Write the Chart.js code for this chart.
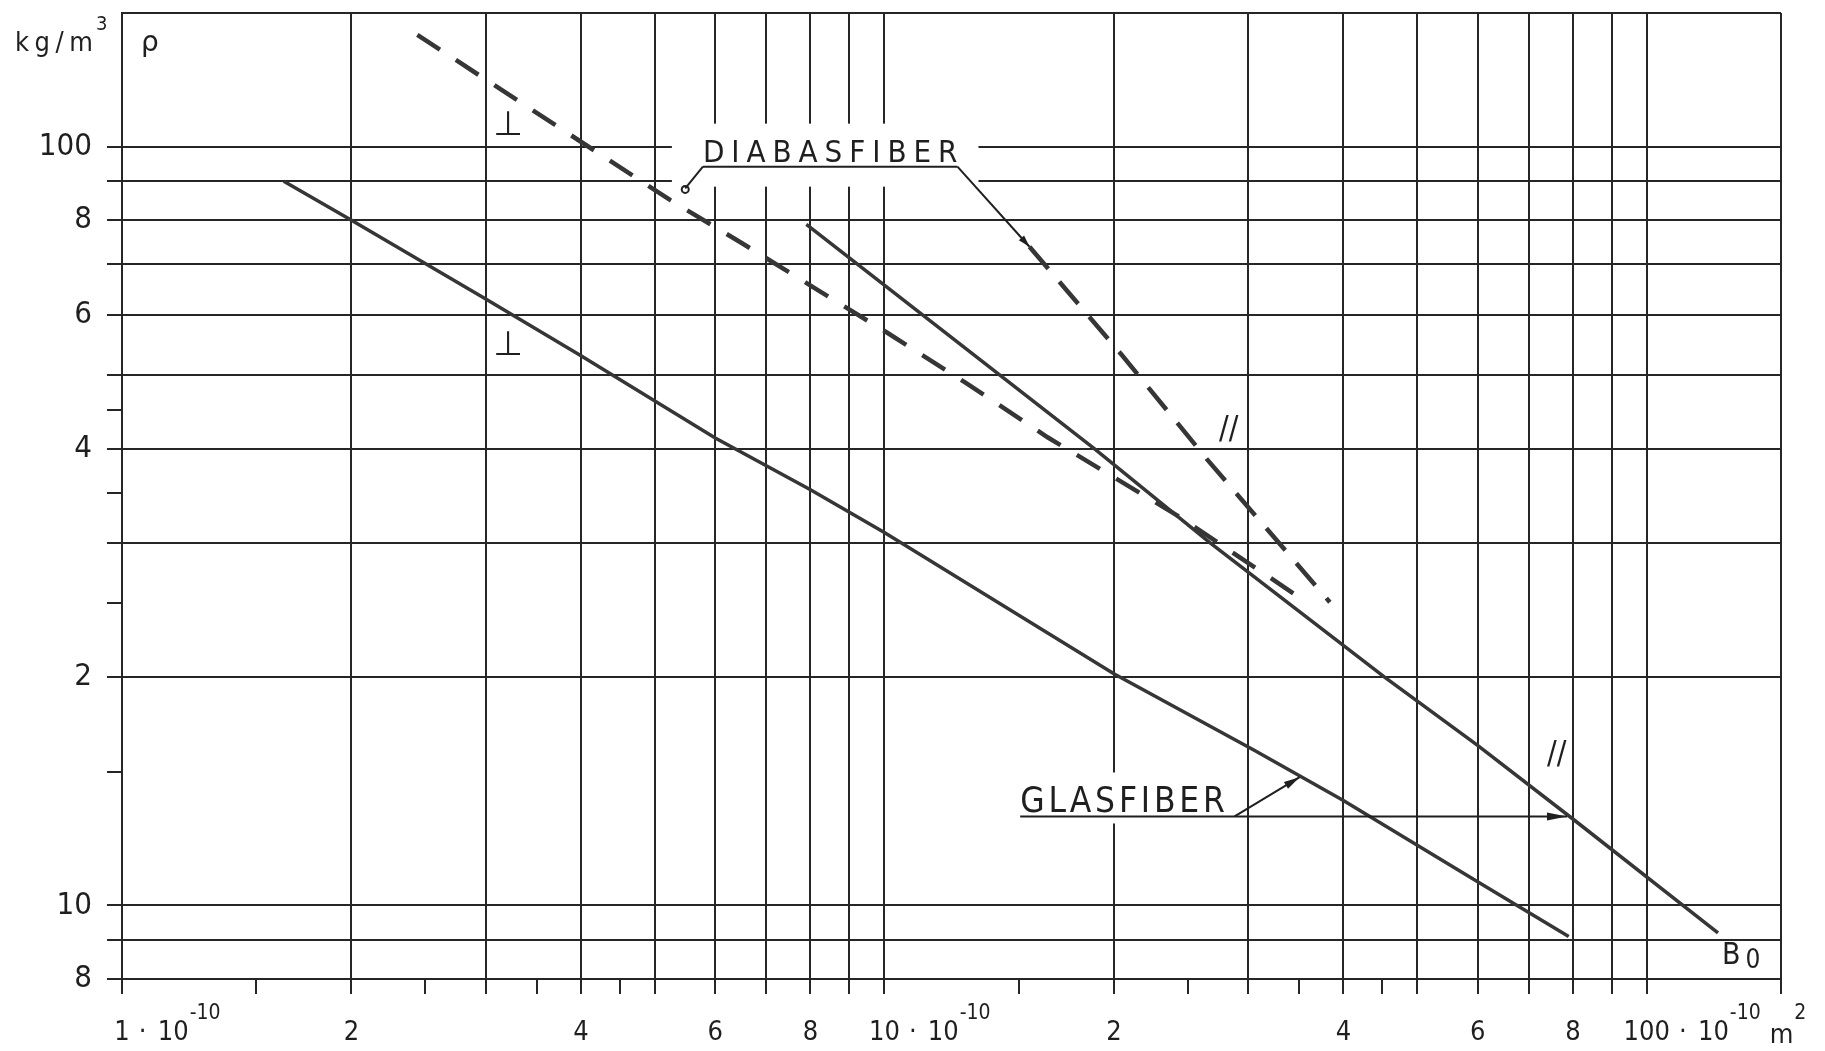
<!DOCTYPE html>
<html>
<head>
<meta charset="utf-8">
<script src="https://cdn.jsdelivr.net/npm/chart.js@4/dist/chart.umd.min.js"></script>
<style>
html,body{margin:0;padding:0;background:#fff;}
#wrap{width:1825px;height:1051px;position:relative;background:#fff;}
</style>
</head>
<body>
<div id="wrap"><canvas id="c" width="1825" height="1051"></canvas></div>
<script>
// ---------------- data (x in 10^-10 m^2, y = rho in kg/m^3) ----------------
const glasPerpX   = [1.63, 2, 3, 4, 6, 8, 10, 20, 30.6, 40, 60, 79];
const glasPerpY   = [90, 80, 63, 53, 41.3, 35.3, 31, 20.2, 16, 13.75, 10.75, 9.1];
const glasParX    = [7.9, 18.85, 26.8, 45.3, 60, 80, 124];
const glasParY    = [79, 40, 30, 20, 16.25, 13, 9.2];
const diabasPerpX = [2.44, 3.7, 5.24, 6.49, 8.08, 10.1, 12.76, 16.37, 24.4, 36];
const diabasPerpY = [140.4, 106.8, 85, 74.7, 65.2, 56.8, 48.9, 41.4, 32.5, 25];
const diabasParX  = [15.5, 20.5, 26.45, 38.4];
const diabasParY  = [73.8, 53.1, 38.8, 25.1];

// ---------------- axes: grid values, minor ticks, tick labels ----------------
const xGridValues = [1,2,3,4,5,6,7,8,9,10,20,30,40,50,60,70,80,90,100,150];
const xMinorTicks = [1.5,2.5,3.5,4.5,15,25,35,45];
const xTickLabels = {1:'1',2:'2',4:'4',6:'6',8:'8',10:'10',20:'2',40:'4',60:'6',80:'8',100:'100'};
const xSuffixTicks = [1, 10, 100];
const yGridValues = [8,9,10,20,30,40,50,60,70,80,90,100,150];
const yMinorTicks = [15,25,35,45];
const yTickLabels = {8:'8',10:'10',20:'2',40:'4',60:'6',80:'8',100:'100'};

// ---------------- annotation anchors (data coordinates) ----------------
const annot = {
  diabas: {text:'DIABASFIBER', x0:5.78, x1:12.47, yLine:94.1, tipL:[5.48,88.1], tipR:[15.5,73.8]},
  glas:   {text:'GLASFIBER', x0:15.07, x1:27.97, yLine:13.1, diag:28.8, tipLow:[35.05,14.76], tipUp:[78.6,13.1]},
  perp:   [[3.21,106.5],[3.21,54.6]],
  par:    [[28.3,42.4],[76.2,15.8]],
  b0:     [125.5, 8.56]
};

const GRID = '#262626', CURVE = '#363636', INK = '#1f1f1f';
const FONT = "'DejaVu Sans Condensed', 'DejaVu Sans', sans-serif";
const TICK_LEN = 15, X_PAD = 23, Y_PAD = 15, X_FS = 27, Y_FS = 31;
const minorX = new Set(xMinorTicks), minorY = new Set(yMinorTicks);
const pts = (xs, ys) => xs.map((v, i) => ({x: v, y: ys[i]}));

function drawSpaced(ctx, text, xl, xr, base, size) {
  ctx.font = size + 'px ' + FONT;
  ctx.textAlign = 'left'; ctx.textBaseline = 'alphabetic';
  const ch = [...text], ws = ch.map(c => ctx.measureText(c).width);
  const tot = ws.reduce((a, b) => a + b, 0);
  const gap = (xr - xl - tot) / (ch.length - 1);
  let x = xl;
  ch.forEach((c, i) => { ctx.fillText(c, x, base); x += ws[i] + gap; });
}
function arrowHead(ctx, fx, fy, tx, ty, len, half) {
  const a = Math.atan2(ty - fy, tx - fx);
  ctx.beginPath();
  ctx.moveTo(tx, ty);
  ctx.lineTo(tx - len*Math.cos(a) + half*Math.sin(a), ty - len*Math.sin(a) - half*Math.cos(a));
  ctx.lineTo(tx - len*Math.cos(a) - half*Math.sin(a), ty - len*Math.sin(a) + half*Math.cos(a));
  ctx.closePath(); ctx.fill();
}
function line(ctx, x1, y1, x2, y2) { ctx.beginPath(); ctx.moveTo(x1, y1); ctx.lineTo(x2, y2); ctx.stroke(); }

const overlay = {
  id: 'overlay',
  afterDraw(chart) {
    const ctx = chart.ctx, xs = chart.scales.x, ys = chart.scales.y;
    const X = v => xs.getPixelForValue(v), Y = v => ys.getPixelForValue(v);
    ctx.save();
    ctx.fillStyle = INK; ctx.strokeStyle = INK; ctx.lineWidth = 2;

    // ---- DIABASFIBER label ----
    const d = annot.diabas, dyl = Y(d.yLine), dx0 = X(d.x0), dx1 = X(d.x1);
    ctx.fillStyle = '#fff';
    ctx.fillRect(dx0 - 31, dyl - 43, dx1 - dx0 + 52, 63);
    ctx.fillStyle = INK;
    drawSpaced(ctx, d.text, dx0, dx1, dyl - 5, 31);
    line(ctx, dx0, dyl, dx1, dyl);
    const tl = [X(d.tipL[0]), Y(d.tipL[1])], tr = [X(d.tipR[0]), Y(d.tipR[1])];
    line(ctx, dx0, dyl, tl[0], tl[1]);
    ctx.beginPath(); ctx.arc(tl[0], tl[1] + 1, 3.5, 0, Math.PI*2); ctx.stroke();
    line(ctx, dx1, dyl, tr[0], tr[1]);
    arrowHead(ctx, dx1, dyl, tr[0], tr[1], 12, 3.5);

    // ---- GLASFIBER label ----
    const g = annot.glas, gyl = Y(g.yLine), gx0 = X(g.x0), gx1 = X(g.x1);
    ctx.fillStyle = '#fff';
    ctx.fillRect(gx0 - 10, gyl - 44, gx1 - gx0 + 22, 51);
    ctx.fillStyle = INK;
    drawSpaced(ctx, g.text, gx0, gx1, gyl - 4, 35);
    const tu = [X(g.tipUp[0]), Y(g.tipUp[1])], tlo = [X(g.tipLow[0]), Y(g.tipLow[1])];
    line(ctx, gx0, gyl, tu[0], gyl);
    arrowHead(ctx, tu[0] - 30, gyl, tu[0], gyl, 20, 4);
    const gd = X(g.diag);
    line(ctx, gd, gyl, tlo[0], tlo[1]);
    arrowHead(ctx, gd, gyl, tlo[0], tlo[1], 16, 4);

    // ---- perpendicular / parallel marks ----
    ctx.textAlign = 'center'; ctx.textBaseline = 'middle';
    ctx.font = "34px 'DejaVu Sans', sans-serif";
    annot.perp.forEach(p => ctx.fillText('\u22A5', X(p[0]), Y(p[1])));
    ctx.font = '32px ' + FONT;
    annot.par.forEach(p => ctx.fillText('//', X(p[0]), Y(p[1])));

    // ---- B0 ----
    ctx.textAlign = 'left';
    ctx.font = '30px ' + FONT;
    const bx = X(annot.b0[0]), by = Y(annot.b0[1]);
    ctx.fillText('B', bx, by);
    const bw = ctx.measureText('B').width;
    ctx.font = '26px ' + FONT;
    ctx.fillText('0', bx + bw + 5, by + 5);

    // ---- axis unit labels ----
    ctx.textBaseline = 'alphabetic';
    drawSpaced(ctx, 'kg/m', 15, 93, 51, 27);
    ctx.font = '20px ' + FONT; ctx.fillText('3', 96, 30);
    ctx.font = "28px 'DejaVu Sans', sans-serif"; ctx.fillText('\u03C1', 141, 51);

    // ---- x tick label suffixes (·10^-10, m^2) ----
    const cy = xs.top + TICK_LEN + X_PAD + X_FS * 1.2 / 2;
    ctx.textBaseline = 'middle';
    xSuffixTicks.forEach(v => {
      ctx.font = X_FS + 'px ' + FONT;
      const w = ctx.measureText(xTickLabels[v]).width;
      let cx = X(v) + w / 2 + 13;
      ctx.textAlign = 'center'; ctx.fillText('\u00B7', cx, cy);
      ctx.textAlign = 'left'; cx += 15;
      ctx.fillText('10', cx, cy); cx += ctx.measureText('10').width + 1;
      ctx.font = '21px ' + FONT; ctx.fillText('-10', cx, cy - 20);
      cx += ctx.measureText('-10').width;
      if (v === 100) {
        ctx.font = X_FS + 'px ' + FONT; cx += 9;
        ctx.fillText('m', cx, cy + 3); cx += ctx.measureText('m').width + 1;
        ctx.font = '21px ' + FONT; ctx.fillText('2', cx, cy - 20);
      }
    });
    ctx.restore();
  }
};

const ds = (data, width, dash) => ({
  data, showLine: true, borderColor: CURVE, backgroundColor: CURVE, borderWidth: width,
  borderDash: dash, pointRadius: 0, pointHoverRadius: 0, tension: 0, fill: false, borderCapStyle: 'butt'
});

new Chart(document.getElementById('c'), {
  type: 'scatter',
  data: {
    datasets: [
      Object.assign(ds(pts(glasPerpX, glasPerpY), 3.5, []), {label: 'Glasfiber \u22A5'}),
      Object.assign(ds(pts(glasParX, glasParY), 3.5, []), {label: 'Glasfiber //'}),
      Object.assign(ds(pts(diabasPerpX, diabasPerpY), 4.5, [27, 19]), {label: 'Diabasfiber \u22A5'}),
      Object.assign(ds(pts(diabasParX, diabasParY), 4.5, [29, 17]), {label: 'Diabasfiber //'})
    ]
  },
  options: {
    responsive: false, animation: false, devicePixelRatio: 1,
    layout: {padding: {top: 13, right: 44, left: 0, bottom: 0}},
    plugins: {legend: {display: false}, tooltip: {enabled: false}, title: {display: false}},
    scales: {
      x: {
        type: 'logarithmic', position: 'bottom', min: 1, max: 150,
        afterBuildTicks: s => { s.ticks = [...xGridValues, ...xMinorTicks].sort((a, b) => a - b).map(v => ({value: v})); },
        afterFit: s => { s.height = 72; s.paddingLeft = 0; s.paddingRight = 0; },
        grid: {
          color: c => (c.tick && minorX.has(c.tick.value)) ? 'rgba(0,0,0,0)' : GRID,
          tickColor: GRID, lineWidth: 2, tickWidth: 2, tickLength: TICK_LEN, drawTicks: true
        },
        border: {display: true, color: GRID, width: 2},
        ticks: {
          autoSkip: false, maxRotation: 0, minRotation: 0, padding: X_PAD, color: INK,
          font: {family: FONT, size: X_FS},
          callback: v => xTickLabels[v] ?? ''
        }
      },
      y: {
        type: 'logarithmic', position: 'left', min: 8, max: 150,
        afterBuildTicks: s => { s.ticks = [...yGridValues, ...yMinorTicks].sort((a, b) => a - b).map(v => ({value: v})); },
        afterFit: s => { s.width = 122; s.paddingTop = 0; s.paddingBottom = 0; },
        grid: {
          color: c => (c.tick && minorY.has(c.tick.value)) ? 'rgba(0,0,0,0)' : GRID,
          tickColor: c => (c.tick && c.tick.value === 150) ? 'rgba(0,0,0,0)' : GRID,
          lineWidth: 2, tickWidth: 2, tickLength: TICK_LEN, drawTicks: true
        },
        border: {display: true, color: GRID, width: 2},
        ticks: {
          autoSkip: false, padding: Y_PAD, color: INK,
          font: {family: FONT, size: Y_FS},
          callback: v => yTickLabels[v] ?? ''
        }
      }
    }
  },
  plugins: [overlay]
});
</script>
</body>
</html>
